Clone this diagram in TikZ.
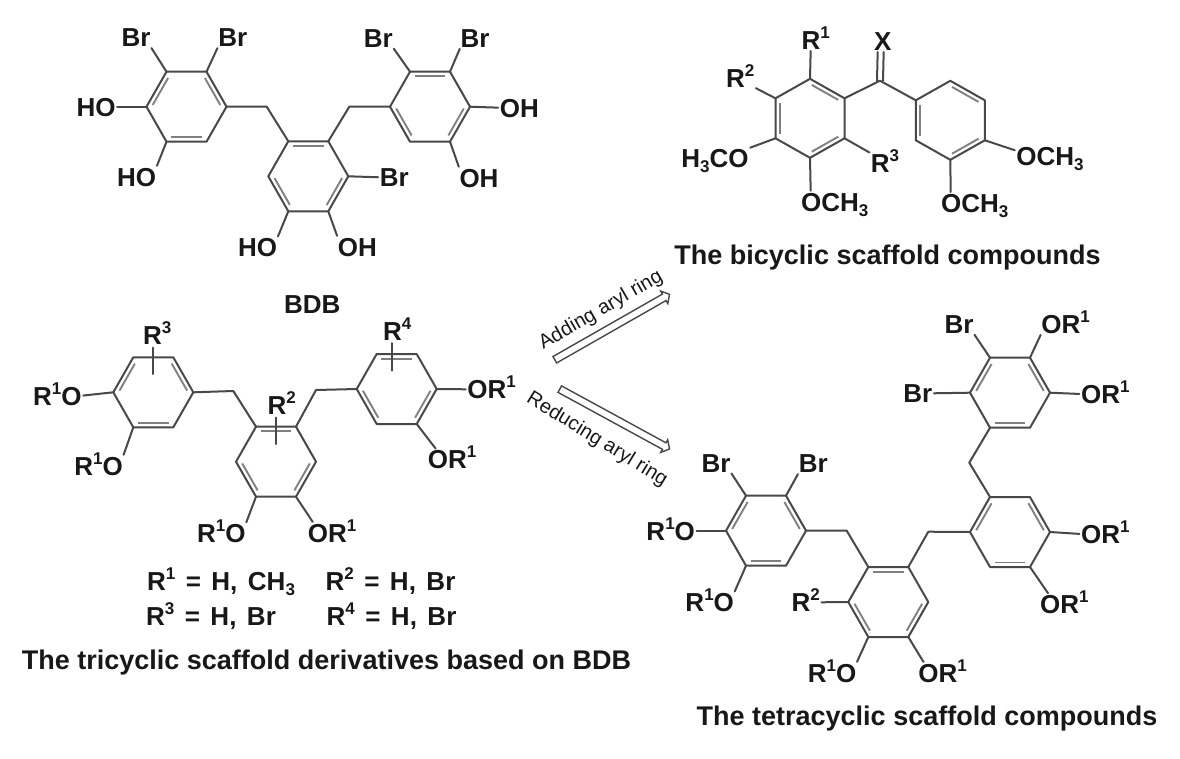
\documentclass[tikz,border=0pt]{standalone}
\usepackage{fontspec}
\setmainfont{Liberation Sans}
\usetikzlibrary{calc,shapes.arrows}
\definecolor{ink}{HTML}{181818}
\definecolor{stroke}{HTML}{484848}
\definecolor{stroke2}{HTML}{808080}
\newcommand{\up}[1]{\raisebox{.42em}{\fontsize{17}{17}\selectfont #1}}
\newcommand{\dn}[1]{\raisebox{-.2em}{\fontsize{17}{17}\selectfont #1}}
\newcommand{\gap}{\hspace{10.5pt}}
% one inner line of a double bond
\newcommand{\dbl}[3]{\draw[innerbond] ($(#1)!.87!(#1#2)$) -- ($(#1)!.87!(#1#3)$);}
% flat topped ring: name, x, y
\newcommand{\hexflat}[3]{
    \coordinate (#1) at (#2,#3);
    \coordinate (#1R) at (#2+40,#3);
    \coordinate (#1TR) at (#2+20,#3-35);
    \coordinate (#1TL) at (#2-20,#3-35);
    \coordinate (#1L) at (#2-40,#3);
    \coordinate (#1BL) at (#2-20,#3+35);
    \coordinate (#1BR) at (#2+20,#3+35);
    \draw[bond] (#1R) -- (#1TR) -- (#1TL) -- (#1L) -- (#1BL) -- (#1BR) -- cycle;
}
\newcommand{\ringa}[3]{\hexflat{#1}{#2}{#3}\dbl{#1}{L}{TL}\dbl{#1}{TR}{R}\dbl{#1}{BL}{BR}}
\newcommand{\ringb}[3]{\hexflat{#1}{#2}{#3}\dbl{#1}{TL}{TR}\dbl{#1}{R}{BR}\dbl{#1}{BL}{L}}
% pointy topped ring
\newcommand{\ringp}[3]{
    \coordinate (#1) at (#2,#3);
    \coordinate (#1T) at (#2,#3-39.5);
    \coordinate (#1UR) at (#2+34.5,#3-20);
    \coordinate (#1LR) at (#2+34.5,#3+20);
    \coordinate (#1B) at (#2,#3+39.5);
    \coordinate (#1LL) at (#2-34.5,#3+20);
    \coordinate (#1UL) at (#2-34.5,#3-20);
    \draw[bond] (#1T) -- (#1UR) -- (#1LR) -- (#1B) -- (#1LL) -- (#1UL) -- cycle;
    \dbl{#1}{T}{UR}\dbl{#1}{LR}{B}\dbl{#1}{LL}{UL}
}
\begin{document}
\begin{tikzpicture}[x=1pt, y=-1pt,
    bond/.style = {draw=stroke, line width=2pt, line cap=round, line join=round},
    sub/.style = {bond, shorten >=1.5pt},
    innerbond/.style = {draw=stroke2, line width=1.9pt, shorten >=2pt, shorten <=2pt},
    lab/.style = {font=\bfseries\fontsize{26}{26}\selectfont, text=ink, inner sep=0pt, text height=18.6pt, text depth=0pt},
    title/.style = {lab, font=\bfseries\fontsize{27}{27}\selectfont},
    note/.style = {font=\fontsize{20}{20}\selectfont, text=ink, inner sep=0pt},
    openarrow/.style = {single arrow, draw=stroke, line width=1.4pt, fill=white, inner xsep=0pt, inner ysep=3pt, single arrow head extend=3.5pt, single arrow tip angle=100},
]
    \useasboundingbox (0,0) rectangle (1180,758);

    %the BDB compound

    \ringa{bA}{186.5}{106.7}
    \ringb{bB}{308.3}{176.3}
    \ringb{bC}{430}{106.7}
    \coordinate (bM1) at (266.7,106.7);
    \coordinate (bM2) at (349.3,106.7);
    \draw[bond] (bAR) -- (bM1) -- (bBTL);
    \draw[bond] (bBTR) -- (bM2) -- (bCL);

    \node[lab] (bBr1) at (136,37.3) {Br};
    \node[lab] (bBr2) at (232.7,37.3) {Br};
    \node[lab] (bBr3) at (378.3,38) {Br};
    \node[lab] (bBr4) at (475,38) {Br};
    \node[lab] (bBr5) at (394.3,177.3) {Br};
    \node[lab] (bHO1) at (96,106.7) {HO};
    \node[lab] (bHO2) at (136.7,176.7) {HO};
    \node[lab] (bHO3) at (257.7,247.3) {HO};
    \node[lab] (bOH1) at (519.3,107.7) {OH};
    \node[lab] (bOH2) at (479,177.7) {OH};
    \node[lab] (bOH3) at (357.3,246.7) {OH};
    \draw[sub] (bATL) -- (bBr1.south east);
    \draw[sub] (bATR) -- (bBr2.south west);
    \draw[sub] (bCTL) -- (bBr3.south east);
    \draw[sub] (bCTR) -- (bBr4.south west);
    \draw[sub] (bBR) -- (bBr5.west);
    \draw[sub] (bAL) -- (bHO1.east);
    \draw[sub] (bABL) -- (bHO2.north east);
    \draw[sub] (bBBL) -- (bHO3.north east);
    \draw[sub] (bCR) -- (bOH1.west);
    \draw[sub] (bCBR) -- (bOH2.north west);
    \draw[sub] (bBBR) -- (bOH3.north west);
    \node[lab] (bName) at (312.3,304) {BDB};

    %the bicyclic compounds

    \ringp{cA}{810}{118.3}
    \ringp{cB}{950.3}{120.3}
    \coordinate (cC) at (880,80.7);
    \draw[bond] (cAUR) -- (cC) -- (cBUL);
    \node[lab] (cX) at (882.7,41) {X};
    \draw[sub] ([xshift=-3pt]cC) -- ([xshift=-5pt]cX.south);
    \draw[sub] ([xshift=3pt]cC) -- ([xshift=1pt]cX.south);

    \node[lab] (cR1) at (815.7,40) {R\up{1}};
    \node[lab] (cR2) at (740.3,78) {R\up{2}};
    \node[lab] (cR3) at (885,162.7) {R\up{3}};
    \node[lab] (cOM1) at (715,157.7) {H\dn{3}CO};
    \node[lab] (cOM2) at (834.7,201.7) {OCH\dn{3}};
    \node[lab] (cOM3) at (1050,155.7) {OCH\dn{3}};
    \node[lab] (cOM4) at (974.7,203) {OCH\dn{3}};
    \draw[sub] (cAT) -- ([xshift=-5pt]cR1.south);
    \draw[sub] (cAUL) -- (cR2.south east);
    \draw[sub] (cALR) -- (cR3.north west);
    \draw[sub] (cALL) -- (cOM1.north east);
    \draw[sub] (cAB) -- ([xshift=-24pt]cOM2.north);
    \draw[sub] (cBLR) -- ([yshift=5pt]cOM3.west);
    \draw[sub] (cBB) -- ([xshift=-24pt]cOM4.north);
    \node[title] (cName) at (887.5,255) {The bicyclic scaffold compounds};

    %the tricyclic derivatives

    \ringa{tA}{153.3}{392.3}
    \ringb{tB}{276}{461.7}
    \ringb{tC}{396.7}{389}
    \coordinate (tM1) at (233.3,391);
    \coordinate (tM2) at (316,390);
    \draw[bond] (tAR) -- (tM1) -- (tBTL);
    \draw[bond] (tBTR) -- (tM2) -- (tCL);

    \node[lab] (tR3) at (157.3,335) {R\up{3}};
    \node[lab] (tR4) at (397.3,330.7) {R\up{4}};
    \node[lab] (tR2) at (281.7,405) {R\up{2}};
    \coordinate (tEnd3) at (153.3,374);
    \coordinate (tEnd4) at (391.7,370.7);
    \coordinate (tEnd2) at (276,444);
    \draw[bond, shorten <=3pt] ([xshift=-4pt]tR3.south) -- (tEnd3);
    \draw[bond, shorten <=3pt] ([xshift=-5.6pt]tR4.south) -- (tEnd4);
    \draw[bond, shorten <=3pt] ([xshift=-5.7pt]tR2.south) -- (tEnd2);

    \node[lab] (tO1) at (57.3,395.7) {R\up{1}O};
    \node[lab] (tO2) at (98.7,465.7) {R\up{1}O};
    \node[lab] (tO3) at (221.3,533.3) {R\up{1}O};
    \node[lab] (tO4) at (332,532.7) {OR\up{1}};
    \node[lab] (tO5) at (491.7,389.3) {OR\up{1}};
    \node[lab] (tO6) at (452,459.3) {OR\up{1}};
    \draw[sub] (tAL) -- (tO1.east);
    \draw[sub] (tABL) -- (tO2.north east);
    \draw[sub] (tBBL) -- (tO3.north east);
    \draw[sub] (tBBR) -- ([xshift=6pt]tO4.north west);
    \draw[sub] (tCR) -- (tO5.west);
    \draw[sub] (tCBR) -- ([xshift=9pt]tO6.north west);

    \node[lab] (tEq1) at (221,581) {R\up{1}\gap=\gap H,\gap CH\dn{3}};
    \node[lab] (tEq2) at (390.5,581) {R\up{2}\gap=\gap H,\gap Br};
    \node[lab] (tEq3) at (211,616) {R\up{3}\gap=\gap H,\gap Br};
    \node[lab] (tEq4) at (391.5,616) {R\up{4}\gap=\gap H,\gap Br};
    \node[title] (tName) at (326.5,660) {The tricyclic scaffold derivatives based on BDB};

    %the two arrows

    \node[openarrow, minimum height=132pt, rotate=29.7] (addArrow) at (610.8,327.8) {};
    \node[openarrow, minimum height=125pt, rotate=-28.6] (redArrow) at (613.3,418.3) {};
    \node[note, rotate=30] (addNote) at (601,310.5) {Adding aryl ring};
    \node[note, rotate=-31.5] (redNote) at (597,439.5) {Reducing aryl ring};

    %the tetracyclic compounds

    \ringa{qA}{766}{530.7}
    \ringb{qB}{888.3}{602}
    \ringa{qC}{1010}{532}
    \ringa{qD}{1010}{392.7}
    \coordinate (qM1) at (846.7,530.7);
    \coordinate (qM2) at (928.3,531.7);
    \coordinate (qM3) at (969.3,462.7);
    \draw[bond] (qAR) -- (qM1) -- (qBTL);
    \draw[bond] (qBTR) -- (qM2) -- (qCL);
    \draw[bond] (qCTL) -- (qM3) -- (qDBL);

    \node[lab] (qBr1) at (716,462.7) {Br};
    \node[lab] (qBr2) at (813.3,463.3) {Br};
    \node[lab] (qBr3) at (959,324) {Br};
    \node[lab] (qBr4) at (917.7,393.3) {Br};
    \node[lab] (qR2) at (805.7,602.3) {R\up{2}};
    \node[lab] (qO1) at (670.7,530.7) {R\up{1}O};
    \node[lab] (qO2) at (709.7,602.3) {R\up{1}O};
    \node[lab] (qO3) at (832,672.7) {R\up{1}O};
    \node[lab] (qO4) at (942.7,672.7) {OR\up{1}};
    \node[lab] (qO5) at (1105.3,534) {OR\up{1}};
    \node[lab] (qO6) at (1064.3,604) {OR\up{1}};
    \node[lab] (qO7) at (1105.3,394) {OR\up{1}};
    \node[lab] (qO8) at (1065.7,324) {OR\up{1}};
    \draw[sub] (qATL) -- (qBr1.south east);
    \draw[sub] (qATR) -- (qBr2.south west);
    \draw[sub] (qDTL) -- (qBr3.south east);
    \draw[sub] (qDL) -- (qBr4.east);
    \draw[sub] (qBL) -- (qR2.east);
    \draw[sub] (qAL) -- (qO1.east);
    \draw[sub] (qABL) -- (qO2.north east);
    \draw[sub] (qBBL) -- (qO3.north east);
    \draw[sub] (qBBR) -- ([xshift=6pt]qO4.north west);
    \draw[sub] (qCR) -- (qO5.west);
    \draw[sub] (qCBR) -- ([xshift=9pt]qO6.north west);
    \draw[sub] (qDR) -- (qO7.west);
    \draw[sub] (qDTR) -- (qO8.south west);
    \node[title] (qName) at (927,716) {The tetracyclic scaffold compounds};
\end{tikzpicture}
\end{document}
